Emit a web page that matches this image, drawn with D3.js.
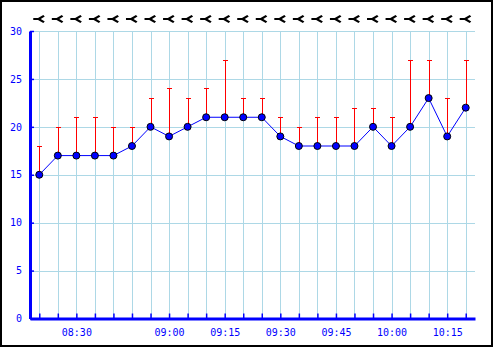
<!DOCTYPE html>
<html>
<head>
<meta charset="utf-8">
<script src="https://cdn.jsdelivr.net/npm/d3@7"></script>
<style>
body { margin: 0; background: #fff; }
svg { display: block; }
</style>
</head>
<body>
<div id="container"></div>
<script>
// data (24 readings)
var values = [15,17,17,17,17,18,20,19,20,21,21,21,21,19,18,18,18,18,20,18,20,23,19,22];
var highs  = [18,20,21,21,20,20,23,24,23,24,27,23,23,21,20,21,21,22,22,21,27,27,23,27];
var windDir = [270,270,270,270,270,270,270,270,270,270,270,270,270,270,270,270,270,270,270,270,270,270,270,270];
var tickIdx = [2, 7, 10, 13, 16, 19, 22];
var tickLabels = ["08:30", "09:00", "09:15", "09:30", "09:45", "10:00", "10:15"];
var yTicks = [0, 5, 10, 15, 20, 25, 30];

var w = 495, h = 348;
var svg = d3.select("div#container").append("svg")
  .attr("width", w).attr("height", h);

var pLeft = 30, pRight = 475, pTop = 31, pBottom = 318.5;

var x = d3.scalePoint()
  .domain(d3.range(values.length))
  .range([pLeft, pRight])
  .padding(0.5);

var y = d3.scaleLinear()
  .domain([0, 30])
  .range([pBottom, pTop]);

var grid = "#add8e6";

// grid
svg.append("g").selectAll("line")
  .data(yTicks.slice(1))
  .enter().append("line")
  .attr("x1", pLeft).attr("x2", pRight)
  .attr("y1", function(d) { return Math.round(y(d)) + 0.5; })
  .attr("y2", function(d) { return Math.round(y(d)) + 0.5; })
  .style("stroke", grid);

svg.append("g").selectAll("line")
  .data(x.domain())
  .enter().append("line")
  .attr("x1", function(d) { return Math.round(x(d)) + 0.5; })
  .attr("x2", function(d) { return Math.round(x(d)) + 0.5; })
  .attr("y1", pTop).attr("y2", pBottom)
  .style("stroke", grid);

// axes
svg.append("g")
  .attr("transform", "translate(" + pLeft + ",0)")
  .call(d3.axisLeft(y).tickValues(yTicks).tickSize(-4).tickSizeOuter(0).tickPadding(8));

svg.append("g")
  .attr("transform", "translate(0," + pBottom + ")")
  .call(d3.axisBottom(x)
    .tickSize(-5).tickSizeOuter(0).tickPadding(10)
    .tickFormat(function(d) {
      var k = tickIdx.indexOf(d);
      return k < 0 ? "" : tickLabels[k];
    }));

svg.selectAll(".tick line").style("stroke", "#0000ff").style("stroke-width", 1.5);
svg.selectAll(".domain").style("stroke", "#0000ff").style("stroke-width", 3);
svg.selectAll(".tick text")
  .style("fill", "#0000ff")
  .style("font-family", "DejaVu Sans Mono")
  .style("font-size", "10px");

// error bars
var eb = svg.append("g").selectAll("g")
  .data(values)
  .enter().append("g");
eb.append("line")
  .attr("x1", function(d, i) { return Math.round(x(i)) + 0.5; })
  .attr("x2", function(d, i) { return Math.round(x(i)) + 0.5; })
  .attr("y1", function(d) { return y(d); })
  .attr("y2", function(d, i) { return Math.round(y(highs[i])) + 0.5; })
  .style("stroke", "red");
eb.append("line")
  .attr("x1", function(d, i) { return Math.round(x(i)) - 2; })
  .attr("x2", function(d, i) { return Math.round(x(i)) + 3; })
  .attr("y1", function(d, i) { return Math.round(y(highs[i])) + 0.5; })
  .attr("y2", function(d, i) { return Math.round(y(highs[i])) + 0.5; })
  .style("stroke", "red");

// line + points
var line = d3.line()
  .x(function(d, i) { return x(i); })
  .y(function(d) { return y(d); });

svg.append("path")
  .datum(values)
  .attr("d", line)
  .style("fill", "none")
  .style("stroke", "#0000ff")
  .style("stroke-width", 1);

svg.append("g").selectAll("circle")
  .data(values)
  .enter().append("circle")
  .attr("cx", function(d, i) { return x(i); })
  .attr("cy", function(d) { return y(d); })
  .attr("r", 3.5)
  .style("fill", "#0000ff")
  .style("stroke", "#000")
  .style("stroke-width", 1);

// wind arrows at top
svg.append("g").selectAll("path")
  .data(windDir)
  .enter().append("path")
  .attr("transform", function(d, i) {
    return "translate(" + x(i) + ",19) rotate(" + (d - 270) + ")";
  })
  .attr("d", "M-6,-1H-1V1H-6Z M-3,0 L4,-4 L5.5,-2.5 L1.5,0 L5.5,2.5 L4,4 Z")
  .style("fill", "#000");

//Marco
svg.append("rect")
  .attr("x", 1).attr("y", 1)
  .attr("width", 491).attr("height", 345)
  .style("fill", "none")
  .style("stroke", "#000")
  .style("stroke-width", 2);
</script>
</body>
</html>
